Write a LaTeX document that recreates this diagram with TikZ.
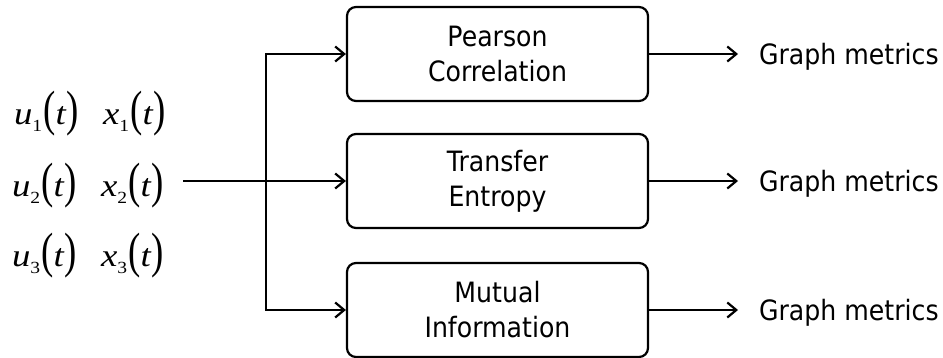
\documentclass[tikz,border=0pt]{standalone}
\usepackage{fontspec}
\setmainfont{DejaVu Sans}[FakeStretch=0.9]
\newfontfamily\tms{Liberation Serif}
\usetikzlibrary{arrows.meta}
% tall parentheses for the signal labels
\newcommand\tallpar[1]{\raisebox{-1.5pt}{\scalebox{1}[1.55]{#1}}}
% a signal name with subscript, e.g. u_1(t)
\newcommand\sig[2]{\textit{#1}\raisebox{-7pt}{\fontsize{17}{17}\selectfont #2}\kern1pt\tallpar{(}\textit{t}\tallpar{)}}
% one row of signals, widened
\newcommand\sigrow[1]{\scalebox{1.15}[1]{\sig{u}{#1}\hspace{21pt}\sig{x}{#1}}}
\begin{document}
\begin{tikzpicture}[x=1pt,y=-1pt,
  line width=2.2pt,
  arr/.style={-{Straight Barb[length=9pt,width=15pt]}},
  both/.style={{Straight Barb[length=9pt,width=15pt]}-{Straight Barb[length=9pt,width=15pt]}},
  method/.style={draw,rounded corners=9pt,minimum width=301pt,minimum height=94pt,
    align=center,inner sep=0pt,font=\fontsize{28}{35}\selectfont},
  outtxt/.style={anchor=base west,inner sep=0pt,font=\fontsize{28}{34}\selectfont},
  siglab/.style={anchor=west,inner sep=0pt,font=\tms\fontsize{32}{32}\selectfont}]
\useasboundingbox (0,0) rectangle (943,358);

% input signals
\node[siglab] (s1) at (13,114) {\sigrow{1}};
\node[siglab] (s2) at (11,186) {\sigrow{2}};
\node[siglab] (s3) at (11,256) {\sigrow{3}};

% dependency measures
\node[method] (b1) at (497.5,54) {Pearson\\Correlation};
\node[method] (b2) at (497.5,181) {Transfer\\Entropy};
\node[method] (b3) at (497.5,310) {Mutual\\Information};

% outputs
\node[outtxt] (g1) at (758,65) {Graph metrics};
\node[outtxt] (g2) at (758,192) {Graph metrics};
\node[outtxt] (g3) at (758,320) {Graph metrics};

% fan-out from the signals
\coordinate (src) at (183,181);
\coordinate (jx) at (266,181);
\draw[arr] (src) -- (b2.west);
\draw[both] (b1.west) -| (jx) |- (b3.west);

% measures to graph metrics
\draw[arr,shorten >=20pt] (b1.east) -- (b1.east -| g1.west);
\draw[arr,shorten >=20pt] (b2.east) -- (b2.east -| g2.west);
\draw[arr,shorten >=20pt] (b3.east) -- (b3.east -| g3.west);
\end{tikzpicture}
\end{document}
